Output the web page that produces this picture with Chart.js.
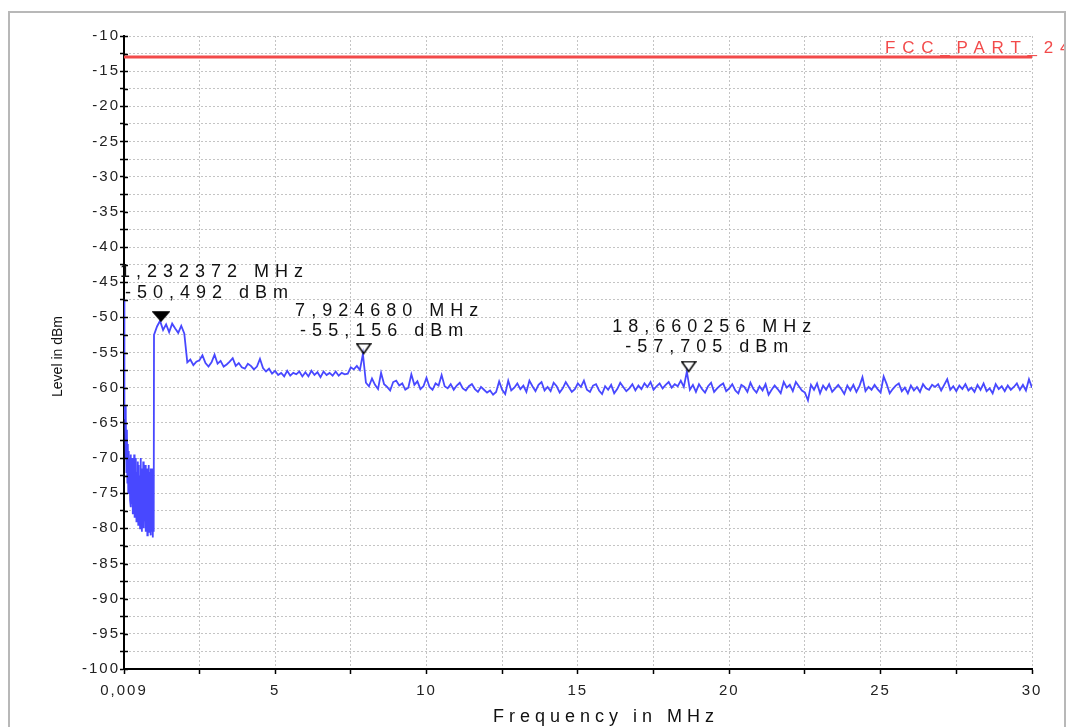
<!DOCTYPE html>
<html>
<head>
<meta charset="utf-8">
<title>Level in dBm</title>
<script src="https://cdn.jsdelivr.net/npm/chart.js@4.4.0/dist/chart.umd.min.js"></script>
<style>
  html, body { margin: 0; padding: 0; background: #fff; }
  #wrap { position: relative; width: 1068px; height: 727px; }
</style>
</head>
<body>
<div id="wrap"><canvas id="myChart"></canvas></div>
<script>
// trace below 1 MHz (MHz / dBm)
var lowFreq = [0.009, 0.015, 0.03, 0.045, 0.06, 0.075, 0.09, 0.105, 0.12, 0.135, 0.15, 0.165, 0.18, 0.195, 0.21, 0.225,
  0.24, 0.255, 0.27, 0.285, 0.30, 0.315, 0.33, 0.345, 0.36, 0.375, 0.39, 0.405, 0.42, 0.435, 0.45, 0.465, 0.48, 0.495,
  0.51, 0.525, 0.54, 0.555, 0.57, 0.585, 0.60, 0.615, 0.63, 0.645, 0.66, 0.675, 0.69, 0.705, 0.72, 0.735, 0.75, 0.765,
  0.78, 0.795, 0.81, 0.825, 0.84, 0.855, 0.87, 0.885, 0.90, 0.915, 0.93, 0.945, 0.96, 0.975, 0.99];
var lowLevel = [-47.5, -48, -64.5, -62.5, -70, -64, -72, -66, -73.5, -68, -75, -69, -74, -70, -76, -69.5,
  -77, -70.5, -76.5, -70, -78, -71, -77.5, -69.5, -78.5, -71.5, -77, -70, -79, -72, -78, -70.5, -79.5, -71,
  -78.5, -72.5, -80, -70, -79, -71.5, -80.5, -72, -79.5, -70.5, -80, -72.5, -79, -71, -80.5, -72, -79.5, -71.5,
  -81, -72.5, -80, -71, -80.5, -72, -79.5, -71.5, -81, -72.5, -80.5, -71.5, -81.3, -72, -80.5];

// main sweep, 1.0 .. 30.0 MHz, one point every 0.1 MHz
var sweepStart = 1.0;
var sweepStep = 0.1;
var mainLevel = [
  -52.5, -51.3, -50.5, -51.8, -51.0, -52.1, -50.9, -51.6, -52.2, -51.2,
  -52.3, -56.4, -56.0, -56.8, -56.3, -56.1, -55.4, -56.5, -57.0, -56.4,
  -55.3, -56.6, -56.2, -57.0, -56.7, -56.3, -55.8, -56.9, -56.5, -57.1,
  -57.3, -56.6, -56.9, -57.4, -57.0, -55.9, -57.2, -57.7, -57.3, -58.0,
  -57.6, -58.2, -57.9, -58.4, -57.6, -58.3, -57.9, -58.1, -57.7, -58.4,
  -57.8, -58.4, -57.6, -58.2, -57.8, -58.5, -57.7, -58.2, -57.9, -58.3,
  -57.7, -58.3, -57.9, -58.1, -58.0, -57.1, -57.4, -56.9, -57.5, -55.2,
  -59.3, -59.8, -58.7, -59.6, -60.2, -57.9, -59.5, -59.9, -60.4, -59.2,
  -59.0, -59.7, -59.4, -60.3, -60.0, -58.1, -59.6, -59.1, -60.2, -59.8,
  -58.6, -59.9, -60.3, -59.4, -59.7, -58.2, -59.8, -60.1, -59.5, -60.3,
  -59.7, -59.3, -60.1, -60.4, -59.8, -59.5, -60.2, -60.6, -59.9, -60.3,
  -60.7, -60.4, -61.0, -60.6, -59.1, -60.3, -60.9, -59.0, -60.4, -60.0,
  -59.4, -60.2, -59.7, -60.6, -59.0, -59.8, -60.5, -59.6, -59.2, -60.4,
  -59.9, -60.5, -59.3, -59.8, -60.7, -60.1, -59.2, -59.9, -60.6, -60.2,
  -59.4, -59.9, -59.0, -60.3, -60.6, -59.7, -59.5, -60.4, -60.9, -59.8,
  -60.3, -59.6, -60.8, -60.2, -59.3, -59.9, -60.5, -60.1, -59.5, -60.4,
  -59.7, -60.2, -59.4, -59.9, -59.2, -60.3, -59.8, -59.4, -60.1, -59.6,
  -59.2, -60.0, -59.5, -59.8, -59.0, -59.9, -57.7, -60.3, -59.6, -60.6,
  -59.5, -60.2, -60.7, -59.8, -59.3, -60.6, -60.1, -59.7, -59.4, -60.5,
  -60.1, -59.5, -60.4, -60.8, -59.6, -59.9, -60.6, -59.3, -60.2, -60.7,
  -59.8, -60.4, -59.5, -61.0, -60.3, -59.7, -60.2, -60.8, -59.2, -60.0,
  -59.6, -60.5, -59.2, -59.8, -60.4, -60.7, -61.8, -59.6, -60.3, -59.4,
  -60.8, -59.7, -60.3, -59.5, -60.6, -60.1, -59.6, -60.2, -60.9, -59.7,
  -60.4, -59.6, -60.6, -59.8, -58.5, -60.5, -59.9, -60.3, -59.6, -60.2,
  -60.7, -58.4, -59.5, -60.8, -60.2, -59.7, -59.4, -60.5, -60.0, -60.8,
  -59.7, -60.4, -59.9, -60.6, -59.5, -60.1, -60.3, -59.6, -59.9, -59.5,
  -60.4, -59.6, -58.8, -60.3, -59.8, -60.5, -59.7, -60.2, -59.5, -60.4,
  -60.0, -60.6, -59.6, -60.3, -59.4, -60.5, -60.1, -60.8, -59.5, -60.2,
  -59.8, -60.5, -59.7, -60.3, -59.9, -59.4, -60.3, -59.6, -60.4, -58.8,
  -60.0
];

var limitFreq = [0.009, 30];
var limitLevel = [-13, -13];
var limitName = "FCC_PART_24";

var markerFreq = [1.232372, 7.924680, 18.660256];
var markerLevel = [-50.492, -55.156, -57.705];
var markerFilled = [true, false, false];

var xTickValues = [0.009, 2.5, 5, 7.5, 10, 12.5, 15, 17.5, 20, 22.5, 25, 27.5, 30];
var xTickLabels = ["0,009", "", "5", "", "10", "", "15", "", "20", "", "25", "", "30"];
var yTickValues = [-100, -97.5, -95, -92.5, -90, -87.5, -85, -82.5, -80, -77.5, -75, -72.5, -70, -67.5, -65, -62.5,
  -60, -57.5, -55, -52.5, -50, -47.5, -45, -42.5, -40, -37.5, -35, -32.5, -30, -27.5, -25, -22.5, -20, -17.5, -15,
  -12.5, -10];

var FONT = '"Liberation Sans", Arial, sans-serif';
var traceColor = "rgb(72, 72, 255)";
var limitColor = "rgb(242, 74, 74)";

// label placement next to each marker (px)
var labelDy1 = [-49, -43, -44];
var labelDy2 = [-28, -23, -24];

var trace = [];
for (i = 0; i < lowFreq.length; i++) {
  trace.push({ x: lowFreq[i], y: lowLevel[i] });
}
for (i = 0; i < mainLevel.length; i++) {
  trace.push({ x: +(sweepStart + i * sweepStep).toFixed(3), y: mainLevel[i] });
}

var limit = [];
for (i = 0; i < limitFreq.length; i++) {
  limit.push({ x: limitFreq[i], y: limitLevel[i] });
}

function markerIcon(filled) {
  var c = document.createElement("canvas");
  var w = filled ? 18 : 16;
  var h = filled ? 10 : 11;
  c.width = w;
  c.height = h * 2; // apex sits at the canvas centre
  var g = c.getContext("2d");
  g.beginPath();
  g.moveTo(1, 1);
  g.lineTo(w - 1, 1);
  g.lineTo(w / 2, h);
  g.closePath();
  g.lineWidth = 1.5;
  g.strokeStyle = "#000";
  if (filled) {
    g.fillStyle = "#000";
    g.fill();
  }
  g.stroke();
  return c;
}

var markers = [];
var markerIcons = [];
for (i = 0; i < markerFreq.length; i++) {
  markers.push({ x: markerFreq[i], y: markerLevel[i] });
  markerIcons.push(markerIcon(markerFilled[i]));
}

function comma(v, d) {
  return v.toFixed(d).replace(".", ",");
}

var decorations = {
  id: "decorations",
  beforeDraw: function (chart) {
    chart.ctx.letterSpacing = "2px";
  },
  afterDraw: function (chart) {
    var ctx = chart.ctx;
    var area = chart.chartArea;
    var xs = chart.scales.x;
    var ys = chart.scales.y;

    ctx.save();
    // outer frame
    ctx.strokeStyle = "#b8b8b8";
    ctx.lineWidth = 2;
    ctx.strokeRect(9, 12, 1056, 760);

    // inner half of the y ticks
    ctx.strokeStyle = "#000";
    ctx.lineWidth = 1.5;
    yTickValues.forEach(function (v) {
      var py = Math.round(ys.getPixelForValue(v)) + 0.5;
      ctx.beginPath();
      ctx.moveTo(area.left, py);
      ctx.lineTo(area.left + 4, py);
      ctx.stroke();
    });

    // limit name, cut off by the frame like the original
    ctx.save();
    ctx.beginPath();
    ctx.rect(0, 0, 1064, 727);
    ctx.clip();
    ctx.font = "17px " + FONT;
    ctx.letterSpacing = "6.8px";
    ctx.fillStyle = limitColor;
    ctx.textAlign = "left";
    ctx.textBaseline = "alphabetic";
    ctx.fillText(limitName, area.right - 147, ys.getPixelForValue(limitLevel[1]) - 4.5);
    ctx.restore();

    // marker readouts
    ctx.font = "18px " + FONT;
    ctx.letterSpacing = "6px";
    ctx.fillStyle = "#111";
    ctx.textAlign = "left";
    ctx.textBaseline = "middle";
    for (var k = 0; k < markerFreq.length; k++) {
      var mx = xs.getPixelForValue(markerFreq[k]);
      var my = ys.getPixelForValue(markerLevel[k]);
      var t1 = comma(markerFreq[k], 6) + " MHz";
      var t2 = comma(markerLevel[k], 3) + " dBm";
      var w1 = ctx.measureText(t1).width;
      var w2 = ctx.measureText(t2).width;
      var left1 = mx + 26 - w1 / 2;
      var shift = Math.max(0, area.left - 4 - left1);
      ctx.fillText(t1, left1 + shift, my + labelDy1[k]);
      ctx.fillText(t2, mx + 21 - w2 / 2 + shift, my + labelDy2[k]);
    }

    // axis titles
    ctx.fillStyle = "#111";
    ctx.textAlign = "center";
    ctx.font = "18px " + FONT;
    ctx.letterSpacing = "5px";
    ctx.fillText("Frequency in MHz", 606, 717);

    ctx.letterSpacing = "0px";
    ctx.font = "14px " + FONT;
    ctx.translate(58, (area.top + area.bottom) / 2 + 4);
    ctx.rotate(-Math.PI / 2);
    ctx.fillText("Level in dBm", 0, 0);
    ctx.restore();
  }
};

let ctx = document.getElementById("myChart");

let myChart = new Chart(ctx, {
  type: "line",
  data: {
    datasets: [
      {
        label: "Markers",
        data: markers,
        showLine: false,
        pointStyle: markerIcons,
        pointRadius: 6,
        clip: false,
      },
      {
        label: limitName,
        data: limit,
        borderColor: limitColor,
        borderWidth: 3,
        pointRadius: 0,
      },
      {
        label: "Level",
        data: trace,
        borderColor: traceColor,
        borderWidth: 1.8,
        pointRadius: 0,
        tension: 0,
      },
    ],
  },
  options: {
    responsive: true,
    maintainAspectRatio: false,
    animation: false,
    layout: { padding: { top: 36, right: 36, left: 0, bottom: 0 } },
    plugins: {
      legend: { display: false },
      tooltip: { enabled: false },
    },
    scales: {
      x: {
        type: "linear",
        min: 0.009,
        max: 30,
        afterFit: function (scale) { scale.height = 58; },
        afterBuildTicks: function (scale) {
          scale.ticks = xTickValues.map(function (v) { return { value: v }; });
        },
        ticks: {
          autoSkip: false,
          maxRotation: 0,
          padding: 8,
          color: "#222",
          font: { family: FONT, size: 15 },
          callback: function (value, index) {
            return xTickLabels[index];
          },
        },
        grid: {
          color: "#c4c4c4",
          lineWidth: 1,
          tickColor: "#000",
          tickLength: 5,
          tickWidth: 1.5,
        },
        border: { color: "#000", width: 2, dash: [2, 2] },
      },
      y: {
        type: "linear",
        min: -100,
        max: -10,
        afterFit: function (scale) { scale.width = 124; },
        afterBuildTicks: function (scale) {
          scale.ticks = yTickValues.map(function (v) { return { value: v }; });
        },
        ticks: {
          autoSkip: false,
          padding: 0,
          color: "#222",
          font: { family: FONT, size: 15 },
          callback: function (value) {
            return value % 5 === 0 ? String(value) : "";
          },
        },
        grid: {
          color: "#c4c4c4",
          lineWidth: 1,
          tickColor: "#000",
          tickLength: 4,
          tickWidth: 1.5,
        },
        border: { color: "#000", width: 2, dash: [2, 2] },
      },
    },
  },
  plugins: [decorations],
});
</script>
</body>
</html>
